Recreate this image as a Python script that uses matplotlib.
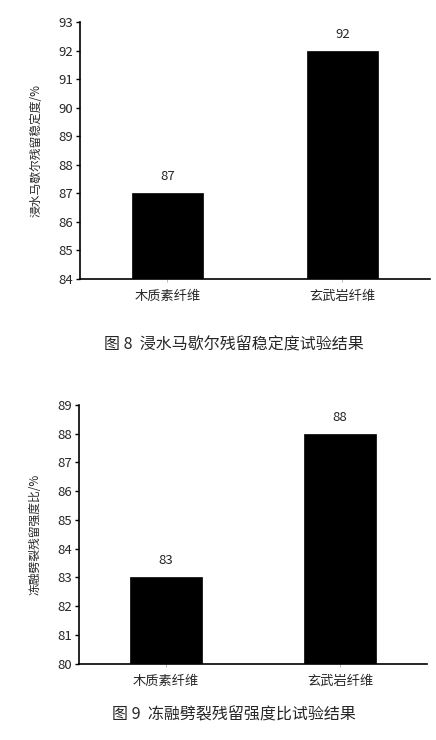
import matplotlib
matplotlib.use("Agg")
import matplotlib.pyplot as plt

plt.rcParams['font.family'] = ['Noto Sans CJK SC', 'DejaVu Sans']

categories = ["木质素纤维", "玄武岩纤维"]

# Fig 8: immersion Marshall residual stability
stability = [87, 92]
stability_ticks = [84, 85, 86, 87, 88, 89, 90, 91, 92, 93]

# Fig 9: freeze-thaw splitting residual strength ratio
strength = [83, 88]
strength_ticks = [80, 81, 82, 83, 84, 85, 86, 87, 88, 89]

panels = [
    (stability, stability_ticks, "浸水马歇尔残留稳定度/%", "图 8  浸水马歇尔残留稳定度试验结果",
     [0.1835, 0.623, 0.8025, 0.3473], 345),
    (strength, strength_ticks, "冻融劈裂残留强度比/%", "图 9  冻融劈裂残留强度比试验结果",
     [0.181, 0.1031, 0.798, 0.3496], 715),
]

fig = plt.figure(figsize=(4.36, 7.40), dpi=100)
txt = "#262626"

for values, ticks, ylabel, caption, rect, cap_y in panels:
    ax = fig.add_axes(rect)
    x = range(len(categories))
    ax.bar(x, [v - ticks[0] for v in values], bottom=ticks[0], width=0.41,
           color="black", edgecolor="black", linewidth=0.5)
    for xi, v in zip(x, values):
        ax.text(xi, v + 0.35, str(v), ha="center", va="bottom", fontsize=9.5, color=txt)
    ax.set_xlim(-0.5, 1.5)
    ax.set_ylim(ticks[0], ticks[-1])
    ax.set_yticks(ticks)
    ax.set_yticklabels([str(t) for t in ticks], fontsize=9.5, color=txt)
    ax.set_xticks(list(x))
    ax.set_xticklabels(categories, fontsize=9.5, color=txt)
    ax.tick_params(axis="y", direction="out", length=3, width=1, pad=2)
    ax.tick_params(axis="x", direction="out", length=2, width=0.6, color="#aaaaaa", pad=6)
    ax.spines["top"].set_visible(False)
    ax.spines["right"].set_visible(False)
    ax.spines["left"].set_linewidth(1.2)
    ax.spines["bottom"].set_linewidth(1.2)
    ax.set_ylabel(ylabel, fontsize=8.5, color=txt, labelpad=11)
    fig.text(0.537, 1 - cap_y / 740, caption, ha="center", va="center",
             fontsize=11.5, color=txt)

fig.savefig("out.png", dpi=100)
